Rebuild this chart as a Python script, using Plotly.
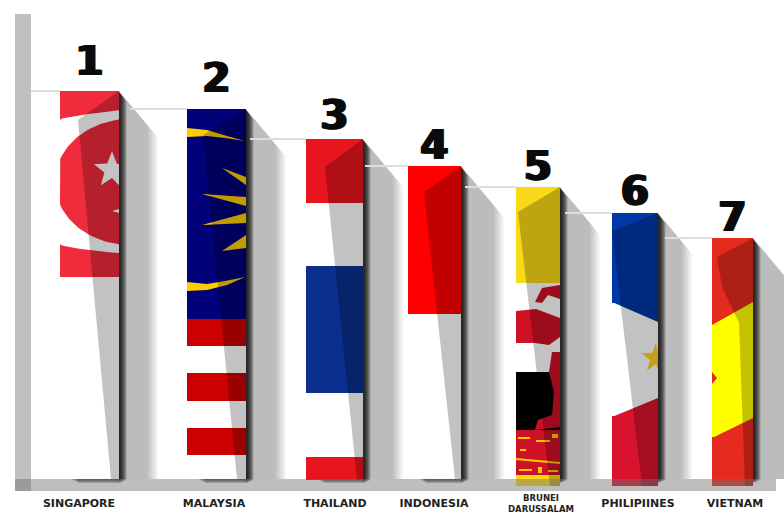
import numpy as np
import plotly.graph_objects as go

# Ranking of ASEAN members, one flag-painted column each
countries = ["SINGAPORE", "MALAYSIA", "THAILAND", "INDONESIA", "BRUNEI<br>DARUSSALAM", "PHILIPIINES", "VIETNAM"]
ranks = [1, 2, 3, 4, 5, 6, 7]
values = [388, 370, 340, 313, 292, 266, 241]

# Flag stripes of each column, listed from the top down
stripe_heights = [
    [186, 202],
    [210, 27, 27, 28, 27, 27, 24],
    [64, 63, 127, 64, 23],
    [148, 165],
    [96, 89, 58, 45, 11],
    [90, 113, 70],
    [64, 135, 49],
]

RED_SG, WHITE = "#ef2b3c", "#ffffff"
NAVY, RED_MY, GOLD = "#01017a", "#cc0001", "#ffcc00"
RED_TH, BLUE_TH = "#e8141e", "#0a2f8c"
RED_ID = "#ff0000"
YEL_BN, RED_BN, BLACK = "#f7d917", "#cf1126", "#000000"
BLUE_PH, RED_PH = "#0038a8", "#d9122e"
RED_VN, YEL_VN = "#e52a1e", "#ffff00"
stripe_colors = [
    [RED_SG, WHITE],
    [NAVY, RED_MY, WHITE, RED_MY, WHITE, RED_MY, WHITE],
    [RED_TH, WHITE, BLUE_TH, WHITE, RED_TH],
    [RED_ID, WHITE],
    [YEL_BN, WHITE, BLACK, RED_BN, YEL_BN],
    [BLUE_PH, WHITE, RED_PH],
    [RED_VN, YEL_VN, RED_VN],
]

# Column placement on the horizontal axis
bar_left = [60, 187, 306, 408, 516, 612, 712]
bar_width = [59, 59, 57, 53, 44, 46, 41]
tick_pos = [79, 214, 335, 434, 541, 638, 735]
rank_lift = [26, 27, 20, 17, 17, 18, 17]
shadow_reach = [39, 40, 40, 43, 40, 34, 47]
guide_start = [31, 130, 250, 365, 465, 565, 665]

# Folded-paper shading: (offset from column left, offset from column top)
folds = [
    [(59, 0), (18, 29), (51, 388), (59, 388)],
    [(59, 0), (16, 26), (50, 370), (59, 370)],
    [(57, 0), (19, 28), (51, 341), (57, 341)],
    [(53, 0), (16, 26), (47, 313), (53, 313)],
    [(44, 0), (2, 25), (34, 299), (44, 299)],
    [(46, 0), (0, 18), (30, 273), (46, 273)],
    [(41, 0), (5, 19), (10, 49), (27, 85), (33, 248), (41, 248)],
]

fig = go.Figure()


def poly(i, pts, color):
    """Filled polygon in column-relative offsets for column i."""
    xs = [bar_left[i] + p[0] for p in pts]
    ys = [values[i] - p[1] for p in pts]
    fig.add_trace(go.Scatter(x=xs + xs[:1], y=ys + ys[:1], mode="lines", fill="toself",
                             fillcolor=color, line=dict(width=0), hoverinfo="skip",
                             showlegend=False))


def ellipse(i, cx, cy, rx, ry, color):
    t = np.linspace(0, 2 * np.pi, 160)
    xs = np.clip(cx + rx * np.cos(t), 0, bar_width[i])
    ys = np.clip(cy + ry * np.sin(t), 0, None)
    poly(i, list(zip(xs, ys)), color)


def star(i, cx, cy, radius, color):
    pts = []
    for k in range(10):
        r = radius if k % 2 == 0 else radius * 0.42
        a = -np.pi / 2 + k * np.pi / 5
        pts.append((min(cx + r * np.cos(a), bar_width[i]), cy + r * np.sin(a)))
    poly(i, pts, color)


# Stripes
for i, (heights, colors) in enumerate(zip(stripe_heights, stripe_colors)):
    top = values[i]
    for h, c in zip(heights, colors):
        fig.add_trace(go.Bar(x=[bar_left[i] + bar_width[i] / 2], y=[h], base=[top - h],
                             width=[bar_width[i]], marker=dict(color=c, line=dict(width=0)),
                             hoverinfo="skip", showlegend=False))
        top -= h

# Singapore: crescent and stars
ellipse(0, 90, 91, 187, 72, WHITE)
ellipse(0, 70, 91, 75, 63, RED_SG)
star(0, 52, 79, 19, WHITE)
poly(0, [(52, 120), (59, 118), (59, 122)], WHITE)

# Malaysia: crescent tips and sun rays
poly(1, [(0, 19), (20, 21), (40, 27), (58, 32), (38, 29), (20, 27), (0, 28)], GOLD)
poly(1, [(0, 182), (20, 181), (40, 176), (58, 168), (38, 172), (20, 175), (0, 173)], GOLD)
poly(1, [(35, 59), (59, 68), (59, 76)], GOLD)
poly(1, [(15, 85), (59, 88), (59, 97)], GOLD)
poly(1, [(15, 116), (59, 104), (59, 114)], GOLD)
poly(1, [(35, 142), (59, 126), (59, 139)], GOLD)

# Brunei: crest and inscription band
poly(4, [(19, 115), (26, 101), (44, 98), (44, 112), (32, 108), (26, 116)], RED_BN)
poly(4, [(0, 124), (20, 122), (44, 131), (44, 150), (33, 158), (19, 156), (0, 156)], RED_BN)
poly(4, [(36, 165), (33, 185), (44, 200), (44, 165)], RED_BN)
poly(4, [(33, 185), (44, 190), (44, 240), (19, 243), (22, 233), (36, 228), (38, 205)], RED_BN)
poly(4, [(0, 271), (44, 275), (44, 277), (0, 273)], GOLD)
for dx, dy, w, h in [(2, 250, 12, 2), (20, 253, 14, 2), (36, 247, 6, 4), (4, 262, 6, 2),
                     (3, 282, 13, 2), (22, 280, 4, 6), (32, 283, 10, 2)]:
    poly(4, [(dx, dy), (dx + w, dy), (dx + w, dy + h), (dx, dy + h)], GOLD)

# Philippines: hoist triangle edges and sun
poly(5, [(0, 89), (46, 109), (46, 89), (0, 89)], BLUE_PH)
poly(5, [(0, 204), (46, 185), (46, 204), (0, 204)], RED_PH)
star(5, 44, 145, 15, "#ffd21f")

# Vietnam: diagonal panels and star tip
poly(6, [(0, 63), (41, 63), (41, 64), (0, 87)], RED_VN)
poly(6, [(0, 200), (41, 180), (41, 200)], RED_VN)
poly(6, [(0, 134), (5, 140), (0, 146)], RED_VN)

# Fold shading over each column
for i, pts in enumerate(folds):
    poly(i, pts, "rgba(0,0,0,0.24)")

# Rank numbers above the columns
fig.add_trace(go.Scatter(
    x=[l + w / 2 for l, w in zip(bar_left, bar_width)],
    y=[v + d for v, d in zip(values, rank_lift)],
    mode="text", text=[str(r) for r in ranks], textposition="middle center",
    textfont=dict(family="DejaVu Sans", size=40, color="#0a0a0a", weight=700,
                  shadow="1.5px 0 0 #0a0a0a, -1.5px 0 0 #0a0a0a"),
    hoverinfo="skip", showlegend=False))

# Axis rails, guides and cast shadows, all derived from the column values
shapes = [
    dict(type="rect", x0=15, x1=31, y0=-12, y1=465, fillcolor="#c0c0c0", line_width=0, layer="below"),
    dict(type="rect", x0=15, x1=776, y0=-12, y1=0, fillcolor="rgba(110,110,110,0.45)",
         line_width=0, layer="above"),
]
for i, v in enumerate(values):
    right = bar_left[i] + bar_width[i]
    shapes.append(dict(type="line", x0=guide_start[i], x1=bar_left[i], y0=v, y1=v,
                       line=dict(color="#dddddd", width=2), layer="below"))
    for s in range(8):
        w = shadow_reach[i] - 1.5 * s
        shapes.append(dict(type="path", layer="below", line_width=0,
                           fillcolor="rgba(0,0,0,0.035)",
                           path=f"M {right} {v} L {right + w} {v - 1.2 * w} L {right + w} 0 L {right} 0 Z"))
    for s in range(7):
        w = 1.5 + s
        shapes.append(dict(type="path", layer="below", line_width=0,
                           fillcolor="rgba(0,0,0,0.2)",
                           path=f"M {right} {v - 1} L {right + w} {v - 1 - 1.3 * w} "
                                f"L {right + w} {-4 + s * 0.5} L {right} {-4 + s * 0.5} Z"))
    for s in range(4):
        shapes.append(dict(type="rect", layer="below", line_width=0,
                           x0=bar_left[i] + 12 + s * 2, x1=right, y0=-1 - s, y1=1,
                           fillcolor="rgba(0,0,0,0.25)"))

# The two-line label needs tighter leading than the axis gives, so it sits in its own annotation
single_line_ticks = [c if "<br>" not in c else "" for c in countries]
two_line_labels = [dict(x=p, y=-0.0255, xref="x", yref="paper", text=c, showarrow=False,
                        xanchor="center", yanchor="middle",
                        font=dict(family="DejaVu Sans", size=8.5, color="#222222", weight=700))
                   for p, c in zip(tick_pos, countries) if "<br>" in c]

fig.update_layout(
    width=784, height=515, margin=dict(l=0, r=0, t=0, b=24, autoexpand=False),
    paper_bgcolor="white", plot_bgcolor="white", barmode="overlay", showlegend=False,
    shapes=shapes,
    annotations=two_line_labels,
    xaxis=dict(range=[0, 784], tickvals=tick_pos, ticktext=single_line_ticks, ticks="outside", ticklen=2,
               tickcolor="rgba(0,0,0,0)", showgrid=False, zeroline=False, showline=False,
               tickangle=0, fixedrange=True, automargin=False,
               tickfont=dict(family="DejaVu Sans", size=11, color="#222222", weight=700)),
    yaxis=dict(range=[-12, 479], visible=False, fixedrange=True, automargin=False),
)

fig.write_html("out.html", config=dict(displayModeBar=False))
